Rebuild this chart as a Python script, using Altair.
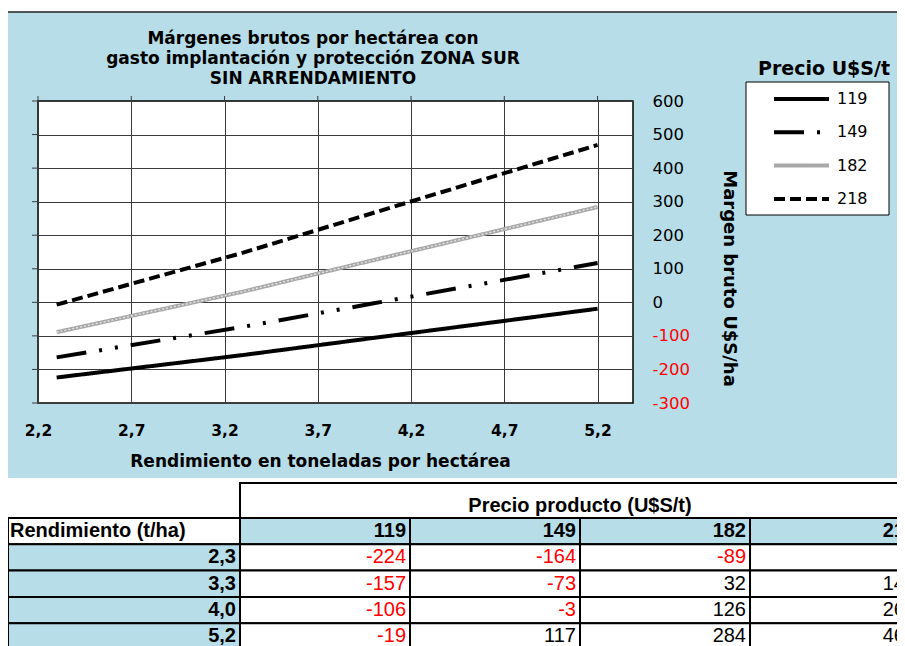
import altair as alt
import pandas as pd

# ---------------- data ----------------
rend_labels = ["2,3", "3,3", "4,0", "5,2"]
rend_values = [2.3, 3.3, 4.0, 5.2]
prices = ["119", "149", "182", "218"]
margin_119 = [-224, -157, -106, -19]
margin_149 = [-164, -73, -3, 117]
margin_182 = [-89, 32, 126, 284]
margin_218 = [-7, 148, 267, 469]
x_ticks = [2.2, 2.7, 3.2, 3.7, 4.2, 4.7, 5.2]
y_ticks = [-300, -200, -100, 0, 100, 200, 300, 400, 500, 600]

title_lines = ["Márgenes brutos por hectárea con",
               "gasto implantación y protección ZONA SUR",
               "SIN ARRENDAMIENTO"]
x_title = "Rendimiento en toneladas por hectárea"
y_title = "Margen bruto U$S/ha"
legend_title = "Precio U$S/t"
table_title = "Precio producto (U$S/t)"
row_header = "Rendimiento (t/ha)"

series = [margin_119, margin_149, margin_182, margin_218]

line_rows, table_rows = [], []
for p, vals in zip(prices, series):
    for r, lab, v in zip(rend_values, rend_labels, vals):
        line_rows.append({"rend": r, "margen": v, "precio": p})
        table_rows.append({"precio": p, "fila": lab, "valor": v, "texto": str(v)})
lines_df = pd.DataFrame(line_rows)
table_df = pd.DataFrame(table_rows)
header_df = pd.DataFrame({"precio": prices, "fila": [row_header] * len(prices), "texto": prices})
cells_df = pd.concat([header_df[["precio", "fila"]], table_df[["precio", "fila"]]], ignore_index=True)
left_df = pd.DataFrame({"fila": [row_header] + rend_labels})
left_lab_df = pd.DataFrame({"fila": rend_labels})
one = pd.DataFrame({"k": [0]})

# ---------------- styles ----------------
BLUE = "#b7dde8"
GRID = "#3a3a3a"
F = "DejaVu Sans"
T = "Liberation Sans"

x_scale = alt.Scale(domain=[2.2, 5.39], nice=False, zero=False)
y_scale = alt.Scale(domain=[-300, 600], nice=False, zero=False)

x_enc = alt.X("rend:Q", scale=x_scale, axis=alt.Axis(
    orient="bottom", values=x_ticks, title=x_title, grid=True, gridColor=GRID, gridWidth=1,
    ticks=False, tickSize=0, domain=False,
    labelExpr="replace(format(datum.value, '.1f'), '.', ',')",
    labelFont=F, labelFontSize=15.5, labelFontWeight="bold", labelColor="black",
    labelPadding=20, labelFlush=False, labelOverlap=False,
    titleFont=F, titleFontSize=17, titleFontWeight="bold", titleColor="black",
    titleX=282, titleY=58, titleBaseline="middle", titleAlign="center"))

y_enc = alt.Y("margen:Q", scale=y_scale, axis=alt.Axis(
    orient="right", values=y_ticks, title=y_title, grid=True, gridColor=GRID, gridWidth=1,
    ticks=False, tickSize=0, domain=False,
    labelExpr="toString(datum.value)",
    labelFont=F, labelFontSize=16.5, labelAlign="left", labelPadding=19,
    labelColor={"condition": {"test": "datum.value < 0", "value": "#ff0000"}, "value": "black"},
    labelOverlap=False, labelFlush=False,
    titleFont=F, titleFontSize=18, titleFontWeight="bold", titleColor="black",
    titleAngle=90, titleX=95, titleY=177, titleBaseline="middle", titleAlign="center"))

leg = alt.Legend(title=None, orient="none", legendX=734, legendY=-12, padding=0,
                 symbolType="stroke", symbolSize=3025, symbolStrokeWidth=4,
                 labelFont=F, labelFontSize=16, labelColor="black", labelOffset=6,
                 clipHeight=20, rowPadding=13.3)

color = alt.Color("precio:N", scale=alt.Scale(domain=prices, range=["black", "black", "#a8a8a8", "black"]),
                  legend=leg)
dash = alt.StrokeDash("precio:N", scale=alt.Scale(domain=prices,
                      range=[[1, 0], [30, 13, 3, 13, 3, 13], [1, 0], [11, 5]]), legend=leg)

lines = alt.Chart(lines_df).mark_line(strokeWidth=4, strokeCap="butt").encode(
    x=x_enc, y=y_enc, color=color, strokeDash=dash)
texture = alt.Chart(lines_df[lines_df["precio"] == "182"]).mark_line(
    color="#e4e4e4", strokeWidth=1.4, strokeDash=[2, 2]).encode(x=x_enc, y=y_enc)

top_ticks = alt.Chart(pd.DataFrame({"rend": x_ticks})).mark_rule(color=GRID, strokeWidth=1).encode(
    x=x_enc, y=alt.value(-5), y2=alt.value(0))
left_ticks = alt.Chart(pd.DataFrame({"margen": y_ticks})).mark_rule(color=GRID, strokeWidth=1).encode(
    y=y_enc, x=alt.value(-6), x2=alt.value(0))

chart_part = alt.layer(top_ticks, left_ticks, lines, texture)

# ---------------- decoration ----------------
top_strip = alt.Chart(one).mark_rect(color="white").encode(
    x=alt.value(-30), x2=alt.value(870), y=alt.value(-95), y2=alt.value(-89))
top_line = alt.Chart(one).mark_rule(color="#222222", strokeWidth=1.5).encode(
    x=alt.value(-30), x2=alt.value(870), y=alt.value(-89))
table_bg = alt.Chart(one).mark_rect(color="white").encode(
    x=alt.value(-30), x2=alt.value(870), y=alt.value(377), y2=alt.value(560))
legend_box = alt.Chart(one).mark_rect(fill="white", stroke="black", strokeWidth=1).encode(
    x=alt.value(708), x2=alt.value(851), y=alt.value(-19), y2=alt.value(114))
legend_head = alt.Chart(pd.DataFrame({"t": [legend_title]})).mark_text(
    font=F, fontSize=19, fontWeight="bold", color="black", align="center", baseline="middle").encode(
    x=alt.value(786), y=alt.value(-32), text="t:N")
chart_title = alt.Chart(pd.DataFrame({"t": ["\n".join(title_lines)]})).mark_text(
    font=F, fontSize=17, fontWeight="bold", color="black", align="center", baseline="middle",
    lineBreak="\n", lineHeight=20).encode(
    x=alt.value(275), y=alt.value(-62), text="t:N")

# ---------------- table ----------------
tx_scale = alt.Scale(domain=prices, range=[202, 882], paddingInner=0, paddingOuter=0)
ty_scale = alt.Scale(domain=[row_header] + rend_labels, range=[417, 548.5], paddingInner=0, paddingOuter=0)
txr = alt.X("precio:N", scale=tx_scale, axis=None, bandPosition=1)
tx = alt.X("precio:N", scale=tx_scale, axis=None)
ty = alt.Y("fila:N", scale=ty_scale, axis=None)

prod_cell = alt.Chart(one).mark_rect(fill="white", stroke="black", strokeWidth=2).encode(
    x=alt.value(202), x2=alt.value(890), y=alt.value(382), y2=alt.value(417))
prod_text = alt.Chart(pd.DataFrame({"t": [table_title]})).mark_text(
    font=T, fontSize=20, fontWeight="bold", color="black", align="center", baseline="middle").encode(
    x=alt.value(542), y=alt.value(405), text="t:N")
cells = alt.Chart(cells_df).mark_rect(stroke="black", strokeWidth=2).encode(
    x=tx, y=ty,
    fill=alt.condition(alt.datum.fila == row_header, alt.value(BLUE), alt.value("white")))
left_cells = alt.Chart(left_df).mark_rect(stroke="black", strokeWidth=2).encode(
    x=alt.value(-30), x2=alt.value(202), y=ty,
    fill=alt.condition(alt.datum.fila == row_header, alt.value("white"), alt.value(BLUE)))
head_text = alt.Chart(header_df).mark_text(
    font=T, fontSize=20, fontWeight="bold", color="black", align="right", baseline="middle", dx=-4).encode(
    x=txr, y=ty, text="texto:N")
val_text = alt.Chart(table_df).mark_text(
    font=T, fontSize=20, align="right", baseline="middle", dx=-4).encode(
    x=txr, y=ty, text="texto:N",
    color=alt.condition("datum.valor < 0", alt.value("#ff0000"), alt.value("black")))
row_text = alt.Chart(left_lab_df).mark_text(
    font=T, fontSize=20, fontWeight="bold", color="black", align="right", baseline="middle").encode(
    x=alt.value(198), y=ty, text="fila:N")
rowhead_text = alt.Chart(pd.DataFrame({"fila": [row_header]})).mark_text(
    font=T, fontSize=20, fontWeight="bold", color="black", align="left", baseline="middle").encode(
    x=alt.value(-28), y=ty, text="fila:N")

table_part = alt.layer(prod_cell, prod_text, cells, left_cells, head_text, val_text, row_text, rowhead_text)

chart = alt.layer(
    top_strip, top_line, table_bg, legend_box, legend_head, chart_title, chart_part, table_part
).resolve_scale(x="independent", y="independent").properties(
    width=595, height=302,
    autosize=alt.AutoSizeParams(type="none"),
    padding={"left": 30, "top": 93, "right": 264, "bottom": 243},
).configure(background=BLUE).configure_view(fill="white", stroke="black", strokeWidth=1.5)

chart.save("out.html", embed_options={"renderer": "svg", "actions": False})
